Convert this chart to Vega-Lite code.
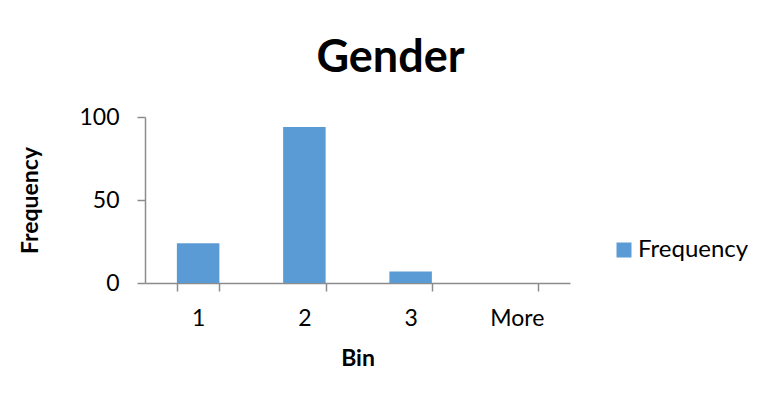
{
  "$schema": "https://vega.github.io/schema/vega-lite/v6.json",
  "width": 425,
  "height": 166,
  "autosize": {"type": "none"},
  "padding": {"left": 145, "top": 117, "right": 197, "bottom": 122},
  "background": "white",
  "title": {
    "text": "Gender",
    "font": "Lato",
    "fontSize": 45,
    "fontWeight": "bold",
    "color": "#000000",
    "anchor": "middle",
    "dx": 33,
    "offset": 25
  },
  "data": {
    "values": [
      {"Bin": "1", "Frequency": 24, "series": "Frequency"},
      {"Bin": "2", "Frequency": 94, "series": "Frequency"},
      {"Bin": "3", "Frequency": 7, "series": "Frequency"},
      {"Bin": "More", "Frequency": 0, "series": "Frequency"}
    ]
  },
  "mark": {"type": "bar"},
  "encoding": {
    "x": {
      "field": "Bin",
      "type": "ordinal",
      "sort": null,
      "scale": {"paddingInner": 0.6, "paddingOuter": 0.3},
      "axis": {
        "title": "Bin",
        "labelAngle": 0,
        "tickBand": "extent",
        "tickSize": 8,
        "labelPadding": 16,
        "titlePadding": 17
      }
    },
    "y": {
      "field": "Frequency",
      "type": "quantitative",
      "scale": {"domain": [0, 100]},
      "axis": {
        "title": "Frequency",
        "values": [0, 50, 100],
        "grid": false,
        "tickSize": 8,
        "labelPadding": 18,
        "titlePadding": 36
      }
    },
    "color": {
      "field": "series",
      "type": "nominal",
      "scale": {"range": ["#5B9BD5"]},
      "legend": {
        "title": null,
        "orient": "none",
        "legendX": 467,
        "legendY": 121,
        "symbolType": "square",
        "symbolSize": 225,
        "symbolStrokeWidth": 0,
        "labelFontSize": 24,
        "labelFont": "Lato",
        "labelColor": "#000000",
        "labelOffset": 2
      }
    }
  },
  "config": {
    "view": {"stroke": null},
    "axis": {
      "labelFont": "Lato",
      "labelFontSize": 23,
      "labelColor": "#000000",
      "titleFont": "Lato",
      "titleFontSize": 23,
      "titleFontWeight": "bold",
      "titleColor": "#000000",
      "domainColor": "#8C8C8C",
      "tickColor": "#8C8C8C",
      "domainWidth": 1.5,
      "tickWidth": 1.5
    }
  }
}
